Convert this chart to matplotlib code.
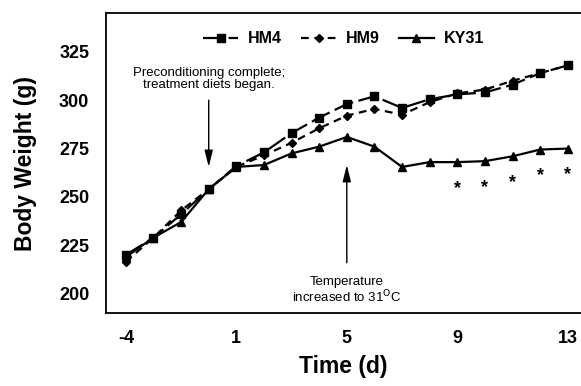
import numpy as np
import matplotlib.pyplot as plt

plt.rcParams['font.family'] = ['Liberation Sans', 'DejaVu Sans']

# days sampled (no day 0), plotted as evenly spaced categories
days = [-4, -3, -2, -1, 1, 2, 3, 4, 5, 6, 7, 8, 9, 10, 11, 12, 13]
tick_days = [-4, 1, 5, 9, 13]

hm4 = [220, 229, 241, 254, 266, 273, 283, 291, 298, 302, 296, 300.5, 303, 304, 308, 314, 318]
hm9 = [216.5, 229, 243, 254, 265.5, 271.5, 278, 285.5, 292, 295.5, 292.5, 299, 303.5, 305.5, 310, 314, 318]
ky31 = [219, 229, 237, 254, 265.5, 266.5, 272.5, 276, 281, 276, 265.5, 268, 268, 268.5, 271, 274.5, 275]
# days flagged as significantly different
sig_days = [9, 10, 11, 12, 13]

x = np.arange(len(days))

fig = plt.figure(figsize=(5.81, 3.86), dpi=100)
ax = fig.add_axes([0.1824, 0.189, 0.8176, 0.777])

ax.plot(x, hm4, color='black', lw=1.6, dashes=(9, 2.5), marker='s', ms=5.5, label='HM4')
ax.plot(x, hm9, color='black', lw=1.6, dashes=(3.5, 2.5), marker='D', ms=4, label='HM9')
ax.plot(x, ky31, color='black', lw=1.6, marker='^', ms=5.5, label='KY31')

for d in sig_days:
    i = days.index(d)
    ax.annotate('*', (x[i], ky31[i]), xytext=(0, -19), textcoords='offset points',
                ha='center', va='center', fontsize=13, fontweight='bold')

# event annotations
i_pre = days.index(-1)
ax.annotate('', xy=(x[i_pre], 265.5), xytext=(x[i_pre], 300),
            arrowprops=dict(arrowstyle='-|>,head_length=1.0,head_width=0.25',
                            color='black', lw=1, shrinkA=0, shrinkB=0))
ax.text(x[i_pre], 311, 'Preconditioning complete;\ntreatment diets began.',
        ha='center', va='center', fontsize=9.5, linespacing=1.05)

i_temp = days.index(5)
ax.annotate('', xy=(x[i_temp], 266.5), xytext=(x[i_temp], 216),
            arrowprops=dict(arrowstyle='-|>,head_length=1.0,head_width=0.25',
                            color='black', lw=1, shrinkA=0, shrinkB=0))
ax.text(x[i_temp], 201.5, 'Temperature\nincreased to 31$^{\\rm O}$C',
        ha='center', va='center', fontsize=9.5, linespacing=1.05)

ax.set_xlim(-0.72, 16.48)
ax.set_ylim(190, 345)
ax.set_xticks([days.index(d) for d in tick_days])
ax.set_xticklabels([str(d) for d in tick_days])
ax.set_yticks([200, 225, 250, 275, 300, 325])
ax.tick_params(length=0, labelsize=13, pad=12)
for lab in ax.get_xticklabels() + ax.get_yticklabels():
    lab.set_fontweight('bold')

ax.spines['right'].set_visible(False)
for s in ['left', 'bottom', 'top']:
    ax.spines[s].set_linewidth(1.3)

ax.set_xlabel('Time (d)', fontsize=16.5, fontweight='bold', labelpad=6)
ax.set_ylabel('Body Weight (g)', fontsize=16.5, fontweight='bold', labelpad=16)

leg = ax.legend(loc='center', bbox_to_anchor=(0.5, 0.915), ncol=3, frameon=False,
                prop={'weight': 'bold', 'size': 11.5}, handlelength=2.2,
                columnspacing=1.2, handletextpad=0.6)

fig.savefig('out.png', dpi=100)
